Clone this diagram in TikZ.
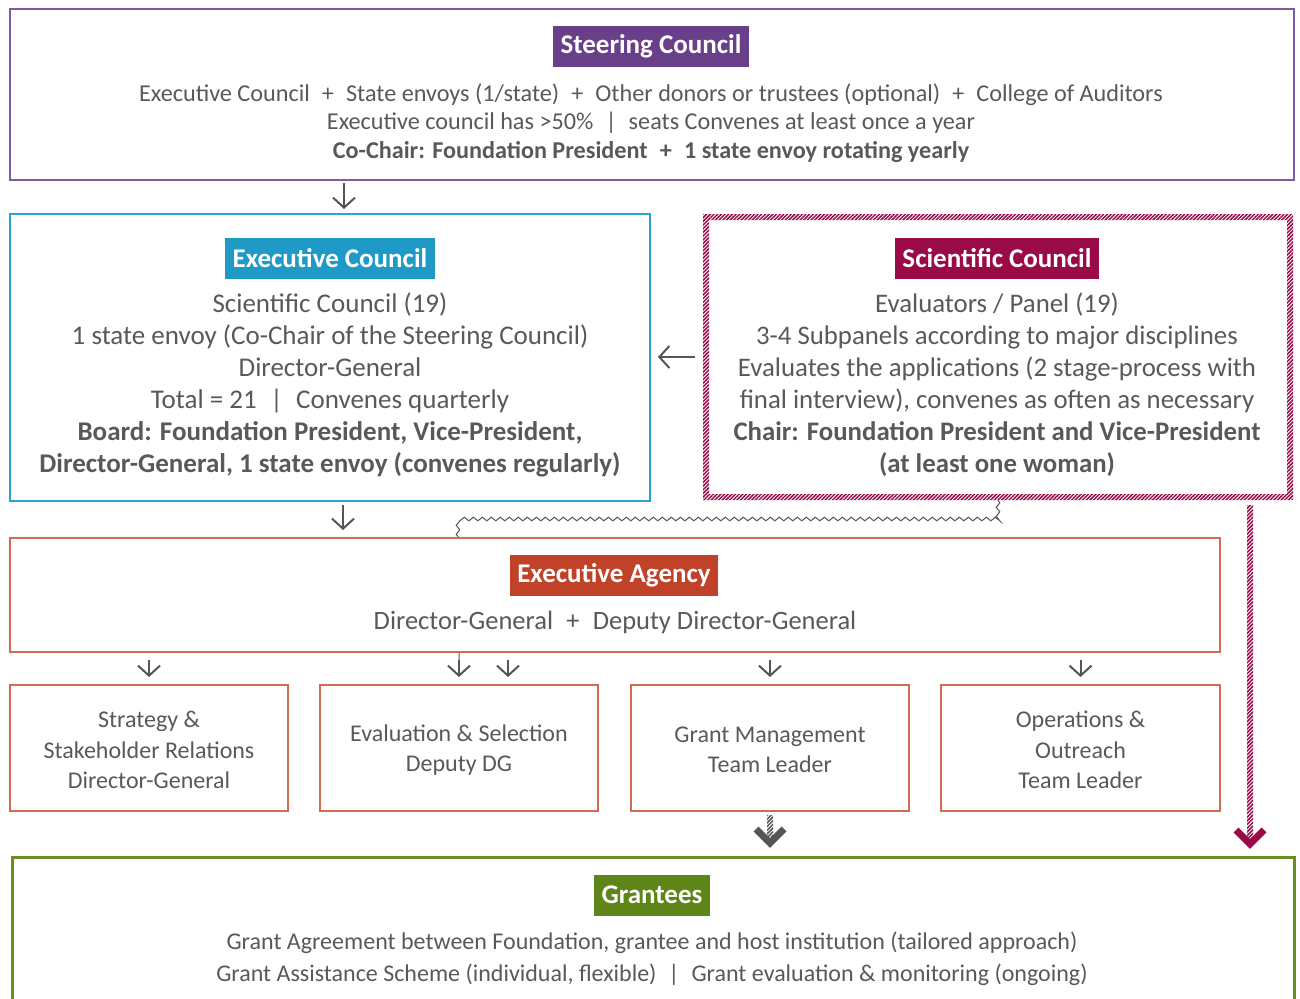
\documentclass[tikz,border=0pt]{standalone}
\usepackage{fontspec}
\setmainfont{Carlito}
\usetikzlibrary{arrows.meta,patterns.meta,decorations.pathmorphing}
\definecolor{txt}{HTML}{595959}
\definecolor{arrgrey}{HTML}{555555}
\definecolor{purp}{HTML}{6A3F8A}
\definecolor{purpline}{HTML}{7F5C9E}
\definecolor{blu}{HTML}{1F9AC6}
\definecolor{bluline}{HTML}{2AA4D1}
\definecolor{sci}{HTML}{990A47}
\definecolor{agy}{HTML}{BF4229}
\definecolor{agyline}{HTML}{D26B52}
\definecolor{grn}{HTML}{5E8518}
\definecolor{grnline}{HTML}{6A8E22}

\begin{document}
\begin{tikzpicture}[x=1pt,y=-1pt,line join=miter,
  box/.style={draw=#1,line width=1.5pt,fill=white,inner sep=0pt,outer sep=0pt},
  badge/.style={fill=#1,text=white,font=\fontsize{27}{30}\selectfont\bfseries,inner xsep=7.5pt,minimum height=41pt},
  body/.style 2 args={text=txt,align=center,font=\fontsize{#1}{#2}\selectfont},
  arr/.style={draw=arrgrey,line width=2pt,-{Straight Barb[length=10pt,width=22pt]}},
  hatch/.style={pattern={Lines[angle=45,distance=2.6pt,line width=1.5pt]},pattern color=#1}]
\useasboundingbox (0,0) rectangle (1300,998);
\node[box=purpline,minimum width=1284pt,minimum height=171pt] (steer) at (652,94.5) {};
\node[badge=purp] (steert) at (651,46.5) {Steering Council};
\node[body={24.2}{28.5}] (steerb) at (651,123) {Executive Council\enspace+\enspace State envoys (1/state)\enspace+\enspace Other donors or trustees (optional)\enspace+\enspace College of Auditors\\
Executive council has >50\%\enspace|\enspace seats Convenes at least once a year\\
\textbf{Co-Chair: Foundation President\enspace+\enspace 1 state envoy rotating yearly}};
\node[box=bluline,minimum width=640pt,minimum height=287pt] (excl) at (330,357.5) {};
\node[badge=blu] (exclt) at (330,258) {Executive Council};
\node[body={27}{32}] (exclb) at (330,385) {Scientific Council (19)\\1 state envoy (Co-Chair of the Steering Council)\\Director-General\\Total = 21\enspace|\enspace Convenes quarterly\\
\textbf{Board: Foundation President, Vice-President,}\\\textbf{Director-General, 1 state envoy (convenes regularly)}};
\fill[hatch=sci,even odd rule] (703,214) rectangle (1293,500) (709,220) rectangle (1287,494);
\node[minimum width=590pt,minimum height=286pt,inner sep=0pt,outer sep=0pt] (sci) at (998,357) {};
\node[badge=sci] (scit) at (997,258) {Scientific Council};
\node[body={26.8}{32}] (scib) at (997,384.5) {Evaluators / Panel (19)\\3-4 Subpanels according to major disciplines\\Evaluates the applications (2 stage-process with\\final interview), convenes as often as necessary\\
\textbf{Chair: Foundation President and Vice-President}\\\textbf{(at least one woman)}};
\draw[draw=arrgrey,line width=1pt,decorate,decoration={snake,amplitude=1.8pt,segment length=9pt,post length=14pt}] (sci.south -| 998,0) -- (998,519) -- (459,519) -- (459,664);
\draw[arr] (459,660) -- (459,677);
\node[box=agyline,minimum width=1210pt,minimum height=114pt] (agency) at (615,595) {};
\node[badge=agy] (agencyt) at (614,575) {Executive Agency};
\node[body={26.5}{32}] (agencyb) at (615,622) {Director-General\enspace+\enspace Deputy Director-General};
\node[box=agyline,minimum width=278pt,minimum height=126pt] (strat) at (149,748) {};
\node[box=agyline,minimum width=278pt,minimum height=126pt] (evalsel) at (459,748) {};
\node[box=agyline,minimum width=278pt,minimum height=126pt] (grantm) at (770,748) {};
\node[box=agyline,minimum width=279pt,minimum height=126pt] (opsout) at (1080.5,748) {};
\node[body={24}{30.5}] at ([yshift=-2pt]strat) {Strategy \&\\Stakeholder Relations\\Director-General};
\node[body={24}{30.5}] at ([yshift=-2pt]evalsel) {Evaluation \& Selection\\Deputy DG};
\node[body={24}{30.5}] at ([yshift=-2pt]grantm) {Grant Management\\Team Leader};
\node[body={24}{30.5}] at ([yshift=-2pt]opsout) {Operations \&\\Outreach\\Team Leader};
\node[draw=grnline,line width=3pt,fill=white,inner sep=0pt,minimum width=1282pt,minimum height=153pt] (grant) at (653,933.5) {};
\node[badge=grn] (grantt) at (652,895) {Grantees};
\node[body={24}{32}] (grantb) at (652,959) {Grant Agreement between Foundation, grantee and host institution (tailored approach)\\
Grant Assistance Scheme (individual, flexible)\enspace|\enspace Grant evaluation \& monitoring (ongoing)};
\draw[arr,shorten <=3pt,shorten >=5pt] (344,0 |- steer.south) -- (344,0 |- excl.north);
\draw[arr,shorten <=8pt,shorten >=8pt] (sci.west) -- (excl.east |- sci.west);
\draw[arr,shorten <=4pt,shorten >=8pt] (343,0 |- excl.south) -- (343,0 |- agency.north);
\draw[arr,shorten <=8pt,shorten >=8pt] (agency.south -| strat.north) -- (strat.north);
\draw[arr,shorten <=8pt,shorten >=8pt] (agency.south -| 508,0) -- (508,0 |- evalsel.north);
\draw[arr,shorten <=8pt,shorten >=8pt] (agency.south -| grantm.north) -- (grantm.north);
\draw[arr,shorten <=8pt,shorten >=8pt] (agency.south -| opsout.north) -- (opsout.north);
\fill[hatch=sci] (1247,505) rectangle (1253,838);
\draw[sci,line width=7pt] (1236,830) -- (1250,844) -- (1264,830);
\fill[hatch=arrgrey] (767,815) rectangle (773,836);
\draw[arrgrey,line width=7pt] (756,829) -- (770,843) -- (784,829);
\end{tikzpicture}
\end{document}
